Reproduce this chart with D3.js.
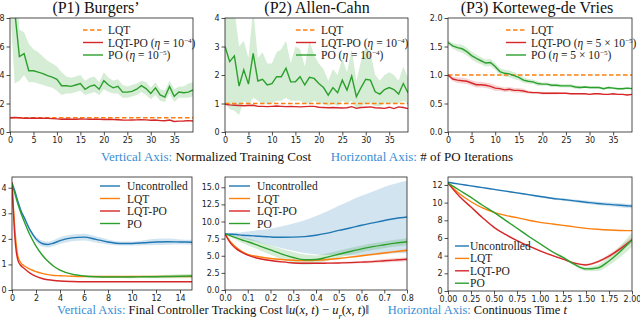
<!DOCTYPE html>
<html>
<head>
<meta charset="utf-8">
<script src="https://cdn.jsdelivr.net/npm/d3@7"></script>
<style>
  body { margin: 0; background: #fff; }
  .tick text { font-family: "DejaVu Sans", sans-serif; font-size: 8px; fill: #222; }
</style>
</head>
<body>
<div id="plot"></div>
<script>
// ---------- top row: normalized training cost vs PO iteration ----------
const iters = d3.range(40);
const lqtLevel = 1;

const burgersPO   = [15, 8.5, 5.3, 5.5, 4.3, 4.3, 4.2, 4.1, 3.95, 3.85, 3.7, 3.25, 3.25, 3.2, 3.3, 3.4, 3.0, 3.2, 3.3, 3.0, 3.6, 3.3, 3.1, 3.2, 2.8, 2.8, 2.85, 3.0, 3.25, 3.05, 2.7, 3.1, 2.6, 2.45, 3.2, 2.5, 2.8, 2.75, 2.8, 2.95];
const burgersPOLo = [9, 3.4, 3.6, 4.0, 3.5, 3.5, 3.4, 3.3, 3.2, 3.1, 2.9, 2.6, 2.7, 2.7, 2.8, 2.9, 2.6, 2.7, 2.8, 2.6, 3.0, 2.8, 2.7, 2.7, 2.4, 2.4, 2.5, 2.6, 2.8, 2.6, 2.3, 2.6, 2.2, 2.1, 2.7, 2.1, 2.4, 2.4, 2.4, 2.5];
const burgersPOHi = [20, 12, 7.2, 7.0, 6.2, 5.8, 5.6, 5.3, 5.0, 4.8, 4.6, 4.2, 3.9, 3.8, 3.9, 4.0, 3.6, 3.8, 3.9, 3.5, 4.2, 3.8, 3.6, 3.7, 3.3, 3.2, 3.3, 3.4, 3.6, 3.5, 3.1, 3.5, 3.0, 2.9, 3.6, 3.0, 3.2, 3.2, 3.4, 3.5];
const burgersLQTPO = [1.0, 1.02, 1.0, 0.97, 0.97, 0.98, 0.97, 0.97, 0.96, 0.94, 0.92, 0.9, 0.91, 0.9, 0.9, 0.91, 0.9, 0.89, 0.9, 0.89, 0.88, 0.89, 0.88, 0.86, 0.84, 0.83, 0.84, 0.85, 0.87, 0.85, 0.82, 0.84, 0.8, 0.79, 0.84, 0.74, 0.76, 0.77, 0.8, 0.77];

const allenPO   = [3.0, 2.47, 2.67, 1.61, 2.18, 1.68, 2.76, 1.79, 1.85, 1.65, 1.7, 1.94, 1.94, 2.24, 1.76, 1.76, 1.94, 1.65, 1.92, 1.88, 1.7, 1.56, 1.29, 1.56, 1.38, 1.82, 1.47, 1.96, 1.24, 1.56, 1.85, 1.82, 1.41, 1.33, 1.49, 1.56, 1.49, 1.33, 1.7, 1.38];
const allenPOLo = [1.0, 0.8, 0.75, 0.6, 1.1, 0.9, 1.2, 1.1, 1.0, 1.0, 1.0, 1.1, 1.1, 1.2, 1.1, 1.1, 1.1, 1.0, 1.0, 1.1, 1.0, 1.0, 0.9, 1.0, 0.9, 1.1, 1.0, 1.1, 0.8, 0.9, 1.0, 1.0, 0.9, 0.9, 1.0, 1.0, 1.0, 1.0, 1.1, 1.0];
const allenPOHi = [4.5, 4.5, 4.3, 3.0, 3.2, 2.6, 4.3, 2.6, 2.8, 2.4, 2.4, 2.8, 2.9, 3.2, 2.4, 3.0, 2.9, 2.3, 3.2, 2.7, 2.4, 2.2, 1.8, 2.2, 2.0, 2.6, 2.1, 2.9, 1.8, 2.5, 3.0, 2.8, 2.0, 1.8, 2.0, 2.1, 2.0, 1.8, 2.3, 1.9];
const allenLQTPO = [0.97, 0.95, 0.94, 0.93, 0.92, 0.93, 0.94, 0.9, 0.9, 0.89, 0.9, 0.91, 0.9, 0.89, 0.9, 0.89, 0.88, 0.89, 0.9, 0.9, 0.87, 0.86, 0.85, 0.86, 0.85, 0.84, 0.85, 0.89, 0.83, 0.86, 0.87, 0.88, 0.85, 0.84, 0.83, 0.87, 0.82, 0.88, 0.86, 0.82];

const kdvPO   = [1.57, 1.51, 1.48, 1.46, 1.41, 1.34, 1.29, 1.25, 1.21, 1.22, 1.15, 1.06, 1.03, 1.02, 0.99, 0.96, 0.91, 0.89, 0.88, 0.85, 0.84, 0.84, 0.82, 0.82, 0.81, 0.81, 0.81, 0.79, 0.78, 0.79, 0.78, 0.78, 0.78, 0.76, 0.78, 0.77, 0.76, 0.76, 0.77, 0.76];
const kdvPOSd = [0.04, 0.05, 0.06, 0.07, 0.07, 0.07, 0.07, 0.06, 0.06, 0.06, 0.06, 0.06, 0.06, 0.06, 0.06, 0.05, 0.05, 0.04, 0.04, 0.04, 0.03, 0.03, 0.03, 0.03, 0.03, 0.03, 0.03, 0.03, 0.03, 0.02, 0.02, 0.02, 0.02, 0.02, 0.02, 0.02, 0.02, 0.02, 0.02, 0.02];
const kdvLQTPO   = [1.0, 0.93, 0.91, 0.9, 0.89, 0.86, 0.83, 0.83, 0.82, 0.8, 0.77, 0.76, 0.74, 0.75, 0.73, 0.73, 0.72, 0.7, 0.69, 0.69, 0.68, 0.68, 0.68, 0.68, 0.68, 0.68, 0.67, 0.67, 0.67, 0.67, 0.66, 0.67, 0.67, 0.66, 0.66, 0.67, 0.66, 0.66, 0.65, 0.66];
const kdvLQTPOSd = [0.02, 0.04, 0.05, 0.05, 0.05, 0.05, 0.05, 0.05, 0.05, 0.05, 0.05, 0.04, 0.04, 0.04, 0.04, 0.04, 0.04, 0.03, 0.02, 0.02, 0.02, 0.02, 0.02, 0.02, 0.01, 0.01, 0.01, 0.01, 0.01, 0.01, 0.01, 0.01, 0.01, 0.01, 0.01, 0.01, 0.01, 0.01, 0.01, 0.01];

// ---------- bottom row: tracking cost vs time ----------
const tBurgers = [0, 0.25, 0.5, 0.75, 1, 1.5, 2, 2.5, 3, 3.5, 4, 5, 6, 7, 8, 9, 10, 11, 12, 13, 14, 15];
const bUnc   = [4.2, 3.85, 3.45, 3.1, 2.85, 2.35, 2.0, 1.82, 1.78, 1.84, 1.93, 2.04, 2.07, 1.98, 1.88, 1.82, 1.82, 1.85, 1.88, 1.89, 1.88, 1.87];
const bUncSd = [0.02, 0.03, 0.04, 0.05, 0.06, 0.08, 0.1, 0.12, 0.12, 0.12, 0.13, 0.13, 0.13, 0.12, 0.1, 0.08, 0.08, 0.1, 0.12, 0.12, 0.1, 0.1];
const bLQT   = [4.2, 2.3, 1.3, 1.05, 0.95, 0.82, 0.72, 0.65, 0.6, 0.57, 0.56, 0.54, 0.53, 0.53, 0.53, 0.53, 0.53, 0.53, 0.53, 0.53, 0.53, 0.53];
const bLQTPO = [4.2, 2.0, 1.15, 0.95, 0.85, 0.66, 0.53, 0.45, 0.4, 0.37, 0.35, 0.33, 0.32, 0.32, 0.32, 0.32, 0.32, 0.32, 0.32, 0.32, 0.32, 0.32];
const bPO    = [4.15, 3.75, 3.35, 3.0, 2.7, 2.15, 1.72, 1.38, 1.12, 0.92, 0.78, 0.62, 0.55, 0.52, 0.51, 0.51, 0.51, 0.52, 0.52, 0.53, 0.54, 0.55];
const bPOSd  = [0.02, 0.02, 0.02, 0.02, 0.02, 0.02, 0.02, 0.02, 0.02, 0.02, 0.02, 0.02, 0.02, 0.03, 0.03, 0.04, 0.05, 0.05, 0.06, 0.07, 0.08, 0.08];

const tAllen = [0, 0.025, 0.05, 0.075, 0.1, 0.15, 0.2, 0.25, 0.3, 0.35, 0.4, 0.45, 0.5, 0.55, 0.6, 0.65, 0.7, 0.75, 0.8];
const aUnc   = [8.2, 8.15, 8.1, 8.0, 7.95, 7.85, 7.75, 7.7, 7.72, 7.8, 8.0, 8.3, 8.7, 9.05, 9.45, 9.8, 10.15, 10.45, 10.65];
const aUncSd = [0.1, 0.2, 0.3, 0.45, 0.6, 0.9, 1.2, 1.6, 2.0, 2.4, 2.8, 3.2, 3.6, 4.0, 4.3, 4.6, 4.9, 5.1, 5.3];
const aLQT   = [8.2, 7.0, 6.2, 5.6, 5.2, 4.85, 4.6, 4.45, 4.35, 4.3, 4.35, 4.45, 4.6, 4.8, 5.0, 5.2, 5.4, 5.6, 5.8];
const aLQTSd = [0.02, 0.05, 0.05, 0.05, 0.05, 0.05, 0.06, 0.06, 0.07, 0.08, 0.09, 0.1, 0.11, 0.12, 0.13, 0.15, 0.17, 0.2, 0.22];
const aLQTPO = [8.2, 6.8, 6.0, 5.5, 5.1, 4.6, 4.3, 4.1, 3.95, 3.9, 3.9, 3.92, 3.95, 4.0, 4.07, 4.15, 4.27, 4.38, 4.48];
const aLQTPOSd = [0.02, 0.08, 0.1, 0.1, 0.1, 0.1, 0.1, 0.1, 0.1, 0.1, 0.1, 0.12, 0.14, 0.16, 0.18, 0.2, 0.24, 0.28, 0.3];
const aPO    = [8.2, 7.9, 7.6, 7.3, 7.05, 6.45, 5.85, 5.25, 4.75, 4.42, 4.45, 4.8, 5.22, 5.62, 6.0, 6.33, 6.6, 6.85, 7.05];
const aPOSd  = [0.1, 0.2, 0.3, 0.4, 0.5, 0.6, 0.7, 0.75, 0.8, 0.75, 0.6, 0.55, 0.5, 0.5, 0.5, 0.5, 0.5, 0.5, 0.5];

const tKdv = [0, 0.125, 0.25, 0.375, 0.5, 0.625, 0.75, 0.875, 1, 1.125, 1.25, 1.375, 1.5, 1.625, 1.75, 1.875, 2];
const kUnc   = [12.3, 12.1, 11.9, 11.7, 11.5, 11.3, 11.1, 10.9, 10.7, 10.5, 10.35, 10.2, 10.05, 9.9, 9.8, 9.7, 9.6];
const kUncSd = [0.02, 0.03, 0.04, 0.05, 0.06, 0.07, 0.08, 0.09, 0.1, 0.12, 0.14, 0.16, 0.18, 0.2, 0.22, 0.24, 0.25];
const kLQT   = [12.2, 11.0, 10.1, 9.4, 8.9, 8.55, 8.3, 8.0, 7.77, 7.6, 7.43, 7.25, 7.09, 6.98, 6.9, 6.85, 6.83];
const kLQTPO = [12.2, 10.7, 9.5, 8.3, 7.2, 6.4, 5.7, 5.1, 4.55, 4.05, 3.6, 3.15, 2.95, 3.3, 3.95, 4.8, 5.8];
const kLQTPOSd = [0.02, 0.03, 0.03, 0.04, 0.04, 0.05, 0.05, 0.06, 0.06, 0.07, 0.08, 0.1, 0.12, 0.15, 0.2, 0.25, 0.3];
const kPO    = [12.2, 11.4, 10.6, 9.7, 8.9, 8.0, 7.1, 6.2, 5.35, 4.5, 3.8, 3.0, 2.5, 2.6, 3.4, 4.5, 5.8];
const kPOSd  = [0.02, 0.03, 0.04, 0.05, 0.06, 0.07, 0.08, 0.09, 0.1, 0.12, 0.13, 0.15, 0.25, 0.35, 0.5, 0.65, 0.8];

const blue = "#1f77b4", orange = "#ff7f0e", green = "#2ca02c", red = "#d62728";
const captionBlue = "#3a8dd4";
const serif = '"Liberation Serif", "Times New Roman", serif';

const svg = d3.select("#plot").append("svg")
  .attr("width", 640).attr("height", 323)
  .style("display", "block");

let clipId = 0;

function panel(box, xDomain, yDomain, xTicks, yTicks, xFmt, yFmt) {
  const x = d3.scaleLinear().domain(xDomain).range([box.x0, box.x1]);
  const y = d3.scaleLinear().domain(yDomain).range([box.y1, box.y0]);
  const id = "clip" + (clipId++);
  svg.append("clipPath").attr("id", id).append("rect")
    .attr("x", box.x0).attr("y", box.y0)
    .attr("width", box.x1 - box.x0).attr("height", box.y1 - box.y0);
  const g = svg.append("g");
  const plot = g.append("g").attr("clip-path", `url(#${id})`);

  g.append("g").attr("transform", `translate(0,${box.y1})`)
    .call(d3.axisBottom(x).tickValues(xTicks).tickFormat(xFmt).tickSize(3.5).tickPadding(2))
    .call(a => a.select(".domain").remove());
  g.append("g").attr("transform", `translate(${box.x0},0)`)
    .call(d3.axisLeft(y).tickValues(yTicks).tickFormat(yFmt).tickSize(3.5).tickPadding(2))
    .call(a => a.select(".domain").remove());
  g.selectAll(".tick line").attr("stroke", "#222").attr("stroke-width", 0.8);

  return {x, y, plot, g, box};
}

// frame on top of the data
function finish(p) {
  p.g.append("rect")
    .attr("x", p.box.x0).attr("y", p.box.y0)
    .attr("width", p.box.x1 - p.box.x0).attr("height", p.box.y1 - p.box.y0)
    .attr("fill", "none").attr("stroke", "#222").attr("stroke-width", 0.8);
}

function band(p, xs, lo, hi, color, curve, op) {
  p.plot.append("path")
    .datum(xs.map((v, i) => [v, lo[i], hi[i]]))
    .attr("fill", color).attr("fill-opacity", op || 0.2)
    .attr("d", d3.area().curve(curve || d3.curveLinear)
      .x(d => p.x(d[0])).y0(d => p.y(d[1])).y1(d => p.y(d[2])));
}

function bandSd(p, xs, mean, sd, color, curve, op) {
  band(p, xs, mean.map((m, i) => m - sd[i]), mean.map((m, i) => m + sd[i]), color, curve, op);
}

function line(p, xs, ys, color, curve, dash) {
  p.plot.append("path")
    .datum(xs.map((v, i) => [v, ys[i]]))
    .attr("fill", "none").attr("stroke", color).attr("stroke-width", 1.4)
    .attr("stroke-dasharray", dash || null)
    .attr("d", d3.line().curve(curve || d3.curveLinear)
      .x(d => p.x(d[0])).y(d => p.y(d[1])));
}

// label parts: [text, style]
function richText(sel, parts, size) {
  parts.forEach(([t, s]) => {
    const ts = sel.append("tspan").text(t);
    if (s === "i") ts.attr("font-style", "italic");
    if (s === "sup") ts.attr("font-size", size * 0.62).attr("baseline-shift", "super");
    if (s === "sub") ts.attr("font-size", size * 0.7).attr("baseline-shift", "sub").attr("font-style", "italic");
    if (s === "blue") ts.attr("fill", captionBlue);
  });
}

function legend(items, x0, y0, dy, len, gap, size) {
  items.forEach((it, i) => {
    const yy = y0 + i * dy;
    svg.append("line")
      .attr("x1", x0).attr("x2", x0 + len).attr("y1", yy).attr("y2", yy)
      .attr("stroke", it.color).attr("stroke-width", 1.4)
      .attr("stroke-dasharray", it.dash || null);
    const t = svg.append("text").attr("font-family", serif)
      .attr("x", x0 + len + gap).attr("y", yy + size * 0.35)
      .attr("font-size", size).attr("fill", "#222");
    richText(t, it.label, size);
  });
}

function title(cx, txt) {
  svg.append("text").attr("font-family", serif)
    .attr("x", cx).attr("y", 13)
    .attr("text-anchor", "middle").attr("font-size", 16).attr("fill", "#111")
    .text(txt);
}

const iterTicks = [0, 5, 10, 15, 20, 25, 30, 35];
const fmtInt = d3.format("d"), fmt1 = d3.format(".1f"), fmt2 = d3.format(".2f");
const dash = "4.5,2.5";

// ----- (P1) Burgers' -----
const p1 = panel({x0: 10, x1: 193, y0: 18, y1: 132}, [0, 39], [0, 8], iterTicks, [0, 2, 4, 6, 8], fmtInt, fmtInt);
band(p1, iters, burgersPOLo, burgersPOHi, green);
line(p1, iters, iters.map(() => lqtLevel), orange, null, dash);
line(p1, iters, burgersLQTPO, red);
line(p1, iters, burgersPO, green);
finish(p1);
title(96, "(P1) Burgers\u2019");

// ----- (P2) Allen-Cahn -----
const p2 = panel({x0: 225, x1: 408, y0: 18, y1: 132}, [0, 39], [0, 4], iterTicks, [0, 1, 2, 3, 4], fmtInt, fmtInt);
band(p2, iters, allenPOLo, allenPOHi, green);
line(p2, iters, iters.map(() => lqtLevel), orange, null, dash);
line(p2, iters, allenLQTPO, red);
line(p2, iters, allenPO, green);
finish(p2);
title(317, "(P2) Allen-Cahn");

// ----- (P3) Korteweg-de Vries -----
const p3 = panel({x0: 448, x1: 632, y0: 18, y1: 132}, [0, 39], [0, 2], iterTicks, [0, 0.5, 1, 1.5, 2], fmtInt, fmt1);
bandSd(p3, iters, kdvPO, kdvPOSd, green);
bandSd(p3, iters, kdvLQTPO, kdvLQTPOSd, red);
line(p3, iters, iters.map(() => lqtLevel), orange, null, dash);
line(p3, iters, kdvLQTPO, red);
line(p3, iters, kdvPO, green);
finish(p3);
title(537, "(P3) Korteweg-de Vries");

legend([
  {label: [["LQT", ""]], color: orange, dash},
  {label: [["LQT-PO (", ""], ["\u03b7", "i"], [" = 10", ""], ["\u22124", "sup"], [")", ""]], color: red},
  {label: [["PO (", ""], ["\u03b7", "i"], [" = 10", ""], ["\u22125", "sup"], [")", ""]], color: green}
], 83, 30, 12.5, 20, 5, 11.5);
legend([
  {label: [["LQT", ""]], color: orange, dash},
  {label: [["LQT-PO (", ""], ["\u03b7", "i"], [" = 10", ""], ["\u22124", "sup"], [")", ""]], color: red},
  {label: [["PO (", ""], ["\u03b7", "i"], [" = 10", ""], ["\u22124", "sup"], [")", ""]], color: green}
], 296, 30, 12.5, 20, 5, 11.5);
legend([
  {label: [["LQT", ""]], color: orange, dash},
  {label: [["LQT-PO (", ""], ["\u03b7", "i"], [" = 5 \u00d7 10", ""], ["\u22125", "sup"], [")", ""]], color: red},
  {label: [["PO (", ""], ["\u03b7", "i"], [" = 5 \u00d7 10", ""], ["\u22125", "sup"], [")", ""]], color: green}
], 506, 30, 12.5, 20, 5, 11.5);

// middle caption
const cap1 = svg.append("text").attr("font-family", serif)
  .attr("x", 307).attr("y", 161).attr("text-anchor", "middle")
  .attr("font-size", 13).attr("fill", "#111");
richText(cap1, [["Vertical Axis: ", "blue"], ["Normalized Training Cost", ""], ["\u2003\u2002", ""],
  ["Horizontal Axis: ", "blue"], ["# of PO Iterations", ""]], 13);

// ----- bottom row -----
const smooth = d3.curveMonotoneX;
const q1 = panel({x0: 12, x1: 192, y0: 177, y1: 290}, [0, 15], [0, 4.42], [0, 2, 4, 6, 8, 10, 12, 14], [0, 1, 2, 3, 4], fmtInt, fmtInt);
bandSd(q1, tBurgers, bUnc, bUncSd, blue, smooth);
bandSd(q1, tBurgers, bPO, bPOSd, green, smooth);
line(q1, tBurgers, bUnc, blue, smooth);
line(q1, tBurgers, bLQT, orange, smooth);
line(q1, tBurgers, bLQTPO, red, smooth);
line(q1, tBurgers, bPO, green, smooth);
finish(q1);

const q2 = panel({x0: 225, x1: 407, y0: 177, y1: 290}, [0, 0.8], [0, 16.5], [0, 0.1, 0.2, 0.3, 0.4, 0.5, 0.6, 0.7, 0.8], [0, 2.5, 5, 7.5, 10, 12.5, 15], fmt1, fmt1);
bandSd(q2, tAllen, aUnc, aUncSd, blue, smooth);
bandSd(q2, tAllen, aPO, aPOSd, green, smooth);
bandSd(q2, tAllen, aLQT, aLQTSd, orange, smooth);
bandSd(q2, tAllen, aLQTPO, aLQTPOSd, red, smooth);
line(q2, tAllen, aUnc, blue, smooth);
line(q2, tAllen, aLQT, orange, smooth);
line(q2, tAllen, aLQTPO, red, smooth);
line(q2, tAllen, aPO, green, smooth);
finish(q2);

const q3 = panel({x0: 448, x1: 632, y0: 177, y1: 291}, [0, 2], [0, 12.9], [0, 0.25, 0.5, 0.75, 1, 1.25, 1.5, 1.75, 2], [0, 2, 4, 6, 8, 10, 12], fmt2, fmtInt);
bandSd(q3, tKdv, kUnc, kUncSd, blue, smooth);
bandSd(q3, tKdv, kPO, kPOSd, green, smooth);
bandSd(q3, tKdv, kLQTPO, kLQTPOSd, red, smooth);
line(q3, tKdv, kUnc, blue, smooth);
line(q3, tKdv, kLQT, orange, smooth);
line(q3, tKdv, kLQTPO, red, smooth);
line(q3, tKdv, kPO, green, smooth);
finish(q3);

const bottomItems = [
  {label: [["Uncontrolled", ""]], color: blue},
  {label: [["LQT", ""]], color: orange},
  {label: [["LQT-PO", ""]], color: red},
  {label: [["PO", ""]], color: green}
];
legend(bottomItems, 100, 186, 12.5, 20, 7, 11.5);
legend(bottomItems, 229, 186, 12.5, 21, 7, 11.5);
legend(bottomItems, 455, 246, 12.4, 14, 1, 11.5);

// bottom caption
const cap2 = svg.append("text").attr("font-family", serif)
  .attr("x", 312).attr("y", 314).attr("text-anchor", "middle")
  .attr("font-size", 12.5).attr("fill", "#111");
richText(cap2, [["Vertical Axis: ", "blue"], ["Final Controller Tracking Cost \u2016", ""], ["u", "i"], ["(", ""], ["x", "i"], [", ", ""], ["t", "i"],
  [") \u2212 ", ""], ["u", "i"], ["r", "sub"], ["(", ""], ["x", "i"], [", ", ""], ["t", "i"], [")\u2016", ""], ["\u2003\u2002", ""],
  ["Horizontal Axis: ", "blue"], ["Continuous Time ", ""], ["t", "i"]], 12.5);
</script>
</body>
</html>
